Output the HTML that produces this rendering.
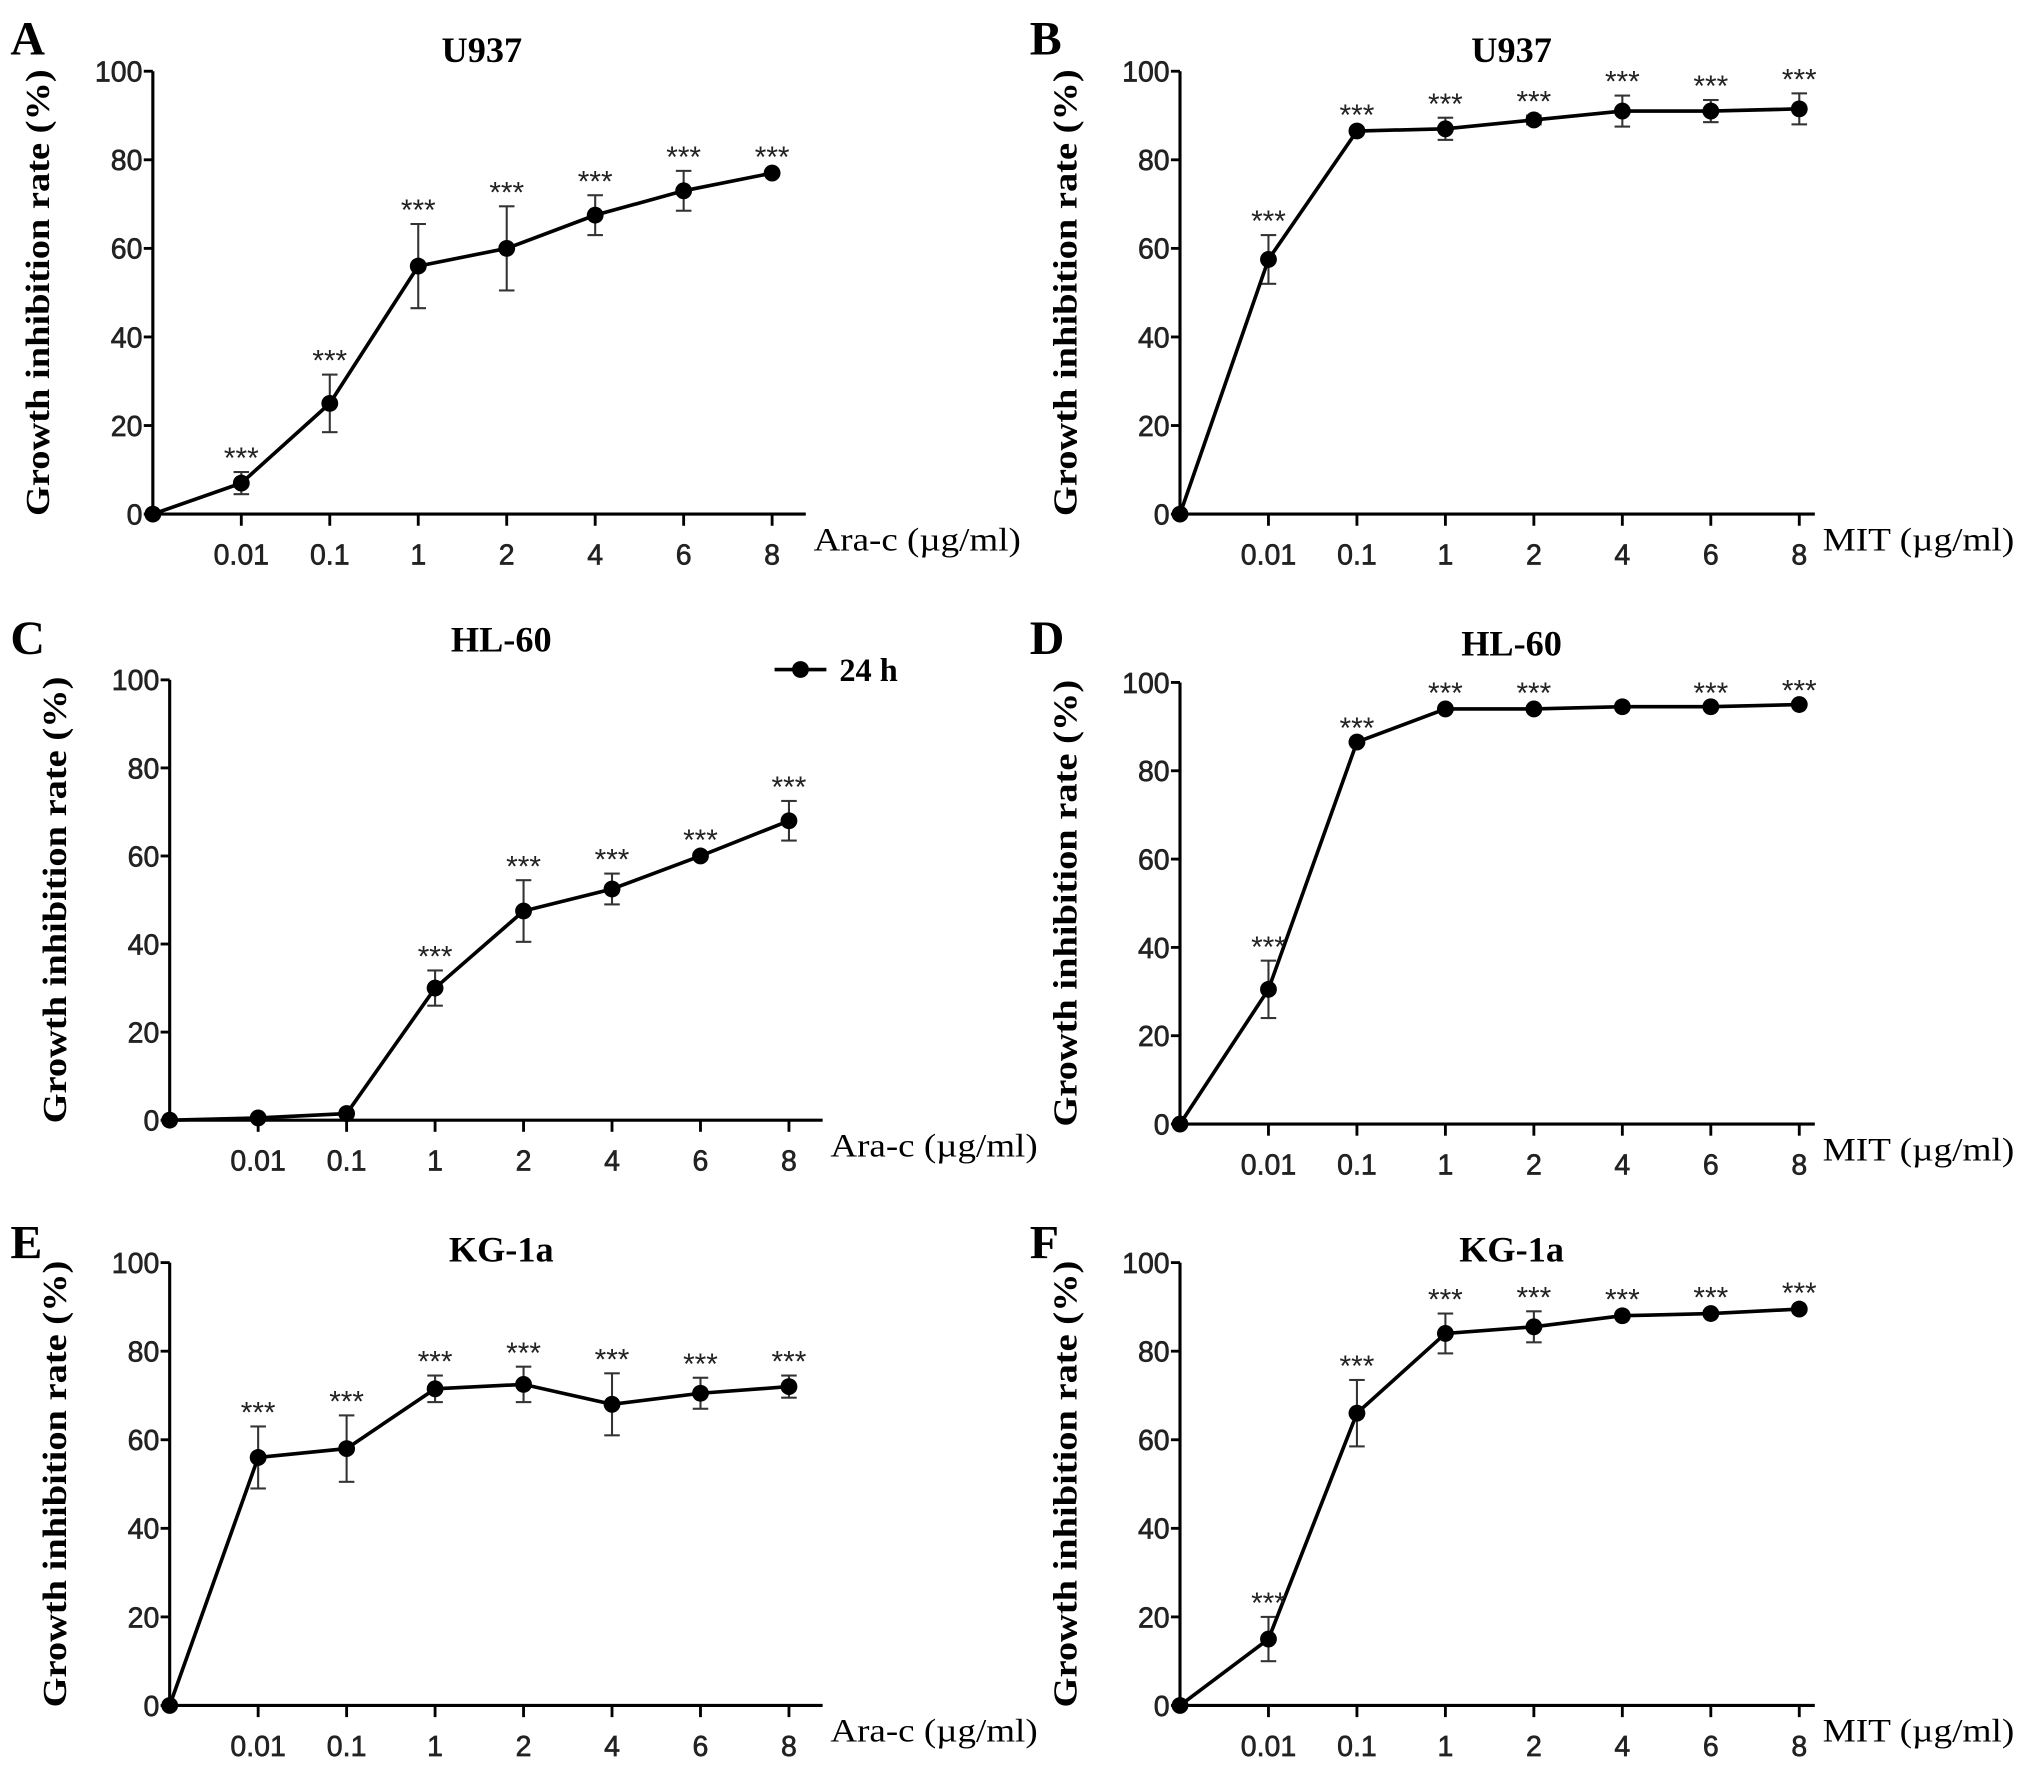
<!DOCTYPE html>
<html><head><meta charset="utf-8"><style>html,body{margin:0;padding:0;background:#fff}svg{display:block}</style></head>
<body>
<svg id="fig" xmlns="http://www.w3.org/2000/svg" width="2031" height="1778" viewBox="0 0 1568 1373" preserveAspectRatio="none"></svg>
<script>
const categories = ["0.01","0.1","1","2","4","6","8"];
const yTicks = [0,20,40,60,80,100];
const valuesA = [0,7,25,56,60,67.5,73,77];
const errorsA = [0,2.5,6.5,9.5,9.5,4.5,4.5,0.5];
const starsA = [0,1,1,1,1,1,1,1];
const valuesB = [0,57.5,86.5,87,89,91,91,91.5];
const errorsB = [0,5.5,0.5,2.5,1,3.5,2.5,3.5];
const starsB = [0,1,1,1,1,1,1,1];
const valuesC = [0,0.5,1.5,30,47.5,52.5,60,68];
const errorsC = [0,0,0,4,7,3.5,0.5,4.5];
const starsC = [0,0,0,1,1,1,1,1];
const valuesD = [0,30.5,86.5,94,94,94.5,94.5,95];
const errorsD = [0,6.5,0,0.5,0.5,0,0,0];
const starsD = [0,1,1,1,1,0,1,1];
const valuesE = [0,56,58,71.5,72.5,68,70.5,72];
const errorsE = [0,7,7.5,3,4,7,3.5,2.5];
const starsE = [0,1,1,1,1,1,1,1];
const valuesF = [0,15,66,84,85.5,88,88.5,89.5];
const errorsF = [0,5,7.5,4.5,3.5,0.5,0.5,0.5];
const starsF = [0,1,1,1,1,1,1,1];

const NS="http://www.w3.org/2000/svg";
const svg=document.getElementById('fig');
function mk(tag,attrs,parent,text){const e=document.createElementNS(NS,tag);for(const k in attrs)e.setAttribute(k,attrs[k]);if(text!==undefined)e.textContent=text;(parent||svg).appendChild(e);return e;}

const panels=[
 {id:'a',letter:'A',title:'U937',drug:'Ara-c (\u00b5g/ml)',x0:118,y0:397,y100:55,dx:68.3,v:valuesA,e:errorsA,s:starsA,lx:8,ly:42,tx:372,ty:48},
 {id:'b',letter:'B',title:'U937',drug:'MIT (\u00b5g/ml)',x0:911,y0:397,y100:55,dx:68.3,v:valuesB,e:errorsB,s:starsB,lx:795,ly:42,tx:1167,ty:48},
 {id:'c',letter:'C',title:'HL-60',drug:'Ara-c (\u00b5g/ml)',x0:131,y0:865,y100:525,dx:68.3,v:valuesC,e:errorsC,s:starsC,lx:8,ly:505,tx:387,ty:503,legend:true},
 {id:'d',letter:'D',title:'HL-60',drug:'MIT (\u00b5g/ml)',x0:911,y0:868,y100:527,dx:68.3,v:valuesD,e:errorsD,s:starsD,lx:795,ly:505,tx:1167,ty:506},
 {id:'e',letter:'E',title:'KG-1a',drug:'Ara-c (\u00b5g/ml)',x0:131,y0:1317,y100:975,dx:68.3,v:valuesE,e:errorsE,s:starsE,lx:8,ly:972,tx:387,ty:974},
 {id:'f',letter:'F',title:'KG-1a',drug:'MIT (\u00b5g/ml)',x0:911,y0:1317,y100:975,dx:68.3,v:valuesF,e:errorsF,s:starsF,lx:795,ly:972,tx:1167,ty:974}
];

panels.forEach(p=>{
  const g=mk('g',{});
  
  
  const X=i=>p.x0+i*p.dx;
  const Y=v=>p.y0-(v/100)*(p.y0-p.y100);
  const mit=p.drug.startsWith('MIT');
  const xEnd=p.x0+7*p.dx+(mit?12:26);
  const L=mk('text',{x:p.lx,y:p.ly,'font-family':'Liberation Serif, serif','font-weight':'bold','font-size':37},g,p.letter);
  
  const T=mk('text',{x:p.tx,y:p.ty,'text-anchor':'middle','font-family':'Liberation Serif, serif','font-weight':'bold','font-size':28},g,p.title);
  
  const ya=mk('line',{x1:p.x0,y1:p.y100,x2:p.x0,y2:p.y0,stroke:'#000','stroke-width':2.4},g);
  
  const xa=mk('line',{x1:p.x0,y1:p.y0,x2:xEnd,y2:p.y0,stroke:'#000','stroke-width':2.4},g);
  
  yTicks.forEach(t=>{
    mk('line',{x1:p.x0-7,y1:Y(t),x2:p.x0,y2:Y(t),stroke:'#000','stroke-width':2.2},g);
    const tl=mk('text',{x:p.x0-8,y:Y(t)+8,'text-anchor':'end','font-family':'Liberation Sans, sans-serif','font-size':22,fill:'#222',stroke:'#222','stroke-width':0.5},g,String(t));
    
  });
  categories.forEach((c,i)=>{
    const x=X(i+1);
    mk('line',{x1:x,y1:p.y0,x2:x,y2:p.y0+9,stroke:'#000','stroke-width':2.2},g);
    const tl=mk('text',{x:x,y:p.y0+39,'text-anchor':'middle','font-family':'Liberation Sans, sans-serif','font-size':22,fill:'#222',stroke:'#222','stroke-width':0.5},g,c);
    
  });
  const xl=mk('text',{x:xEnd+6,y:p.y0+28,'font-family':'Liberation Serif, serif','font-size':25,textLength:mit?148:160,lengthAdjust:'spacingAndGlyphs'},g,p.drug);
  
  const cy=(p.y0+p.y100)/2, cx=p.x0-80;
  const yl=mk('text',{x:cx,y:cy,'text-anchor':'middle','font-family':'Liberation Serif, serif','font-weight':'bold','font-size':26,transform:`rotate(-90 ${cx} ${cy})`,textLength:345,lengthAdjust:'spacingAndGlyphs'},g,'Growth inhibition rate (%)');
  
  p.v.forEach((v,i)=>{
    if(p.e[i]>0){
      const eb=mk('g',{stroke:'#333','stroke-width':1.6},g);
      
      mk('line',{x1:X(i),y1:Y(v-p.e[i]),x2:X(i),y2:Y(v+p.e[i])},eb);
      mk('line',{x1:X(i)-6,y1:Y(v+p.e[i]),x2:X(i)+6,y2:Y(v+p.e[i])},eb);
      mk('line',{x1:X(i)-6,y1:Y(v-p.e[i]),x2:X(i)+6,y2:Y(v-p.e[i])},eb);
    }
  });
  const pts=p.v.map((v,i)=>X(i)+','+Y(v)).join(' ');
  const ln=mk('polyline',{points:pts,fill:'none',stroke:'#000','stroke-width':2.8},g);
  
  p.v.forEach((v,i)=>{
    const c=mk('circle',{cx:X(i),cy:Y(v),r:6.5,fill:'#000'},g);
    
    if(p.s[i]){
      const st=mk('text',{x:X(i),y:Y(v+p.e[i])-3,'text-anchor':'middle','font-family':'Liberation Sans, sans-serif','font-size':23,fill:'#222'},g,'***');
      
    }
  });
  if(p.legend){
    const lg=mk('g',{},g);
    
    mk('line',{x1:598,y1:517,x2:638,y2:517,stroke:'#000','stroke-width':2.8},lg);
    mk('circle',{cx:618,cy:517,r:6.5,fill:'#000'},lg);
    mk('text',{x:648,y:526,'font-family':'Liberation Serif, serif','font-weight':'bold','font-size':25},lg,'24 h');
  }
});
</script>
</body></html>
